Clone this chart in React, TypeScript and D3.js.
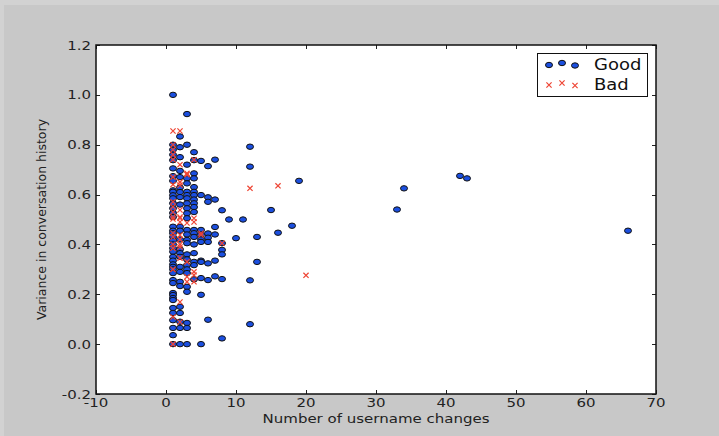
import React, { useEffect, useRef } from "react";
import * as d3 from "d3";

// username-change counts and the variance values seen at each count
const goodChanges = [1, 2, 3, 4, 5, 6, 7, 8, 9, 10, 11, 12, 13, 15, 16, 18, 19, 33, 34, 42, 43, 66];
const goodVariance = [
  [1.0, 0.8, 0.78, 0.76, 0.738, 0.705, 0.674, 0.655, 0.617, 0.611, 0.597, 0.585, 0.565, 0.545, 0.526, 0.51,
    0.471, 0.455, 0.445, 0.43, 0.415, 0.4, 0.385, 0.371, 0.35, 0.335, 0.32, 0.31, 0.3, 0.285, 0.257, 0.245,
    0.205, 0.197, 0.185, 0.177, 0.145, 0.125, 0.096, 0.065, 0.036, 0.0],
  [0.833, 0.79, 0.75, 0.695, 0.67, 0.628, 0.61, 0.59, 0.56, 0.471, 0.455, 0.42, 0.38, 0.365, 0.35, 0.31, 0.29,
    0.25, 0.233, 0.15, 0.125, 0.09, 0.065, 0.0],
  [0.923, 0.8, 0.72, 0.665, 0.645, 0.611, 0.598, 0.585, 0.565, 0.545, 0.525, 0.505, 0.458, 0.44, 0.418, 0.405,
    0.36, 0.34, 0.317, 0.3, 0.285, 0.23, 0.21, 0.085, 0.065, 0.0],
  [0.77, 0.738, 0.685, 0.665, 0.63, 0.611, 0.598, 0.58, 0.565, 0.55, 0.53, 0.458, 0.445, 0.43, 0.4, 0.365, 0.33,
    0.317, 0.26],
  [0.735, 0.598, 0.458, 0.44, 0.42, 0.41, 0.335, 0.33, 0.265, 0.198, 0.0],
  [0.714, 0.589, 0.571, 0.444, 0.427, 0.41, 0.324, 0.257, 0.098],
  [0.74, 0.58, 0.47, 0.44, 0.335, 0.272],
  [0.537, 0.405, 0.378, 0.36, 0.261, 0.023],
  [0.5],
  [0.425],
  [0.5],
  [0.792, 0.712, 0.256, 0.08],
  [0.43, 0.33],
  [0.538],
  [0.447],
  [0.475],
  [0.655],
  [0.54],
  [0.625],
  [0.675],
  [0.665],
  [0.455],
];

const badChanges = [1, 2, 3, 4, 5, 8, 12, 16, 20];
const badVariance = [
  [0.855, 0.8, 0.78, 0.76, 0.74, 0.67, 0.64, 0.571, 0.551, 0.53, 0.51, 0.502, 0.445, 0.43, 0.4, 0.385, 0.3,
    0.109, 0.0],
  [0.855, 0.72, 0.65, 0.638, 0.538, 0.51, 0.505, 0.49, 0.438, 0.42, 0.4, 0.39, 0.345, 0.169, 0.089],
  [0.685, 0.68, 0.486, 0.33, 0.27, 0.25],
  [0.74, 0.505, 0.49, 0.29, 0.277, 0.25],
  [0.445, 0.438],
  [0.405],
  [0.625],
  [0.635],
  [0.276],
];

const xTicks = [-10, 0, 10, 20, 30, 40, 50, 60, 70];
const yTicks = [-0.2, 0.0, 0.2, 0.4, 0.6, 0.8, 1.0, 1.2];
const seriesNames = ["Good", "Bad"];

const FONT = "'DejaVu Sans', Verdana, sans-serif";
const BLUE = "#1b4fe0";
const RED = "#ee4433";
// the reference picture is stretched sideways a little
const SX = 1.2;

export default function App() {
  const svgRef = useRef<SVGSVGElement>(null);

  useEffect(() => {
    const svg = d3.select(svgRef.current);
    svg.selectAll("*").remove();

    const W = 719;
    const H = 436;
    const left = 96, right = 656, top = 45, bottom = 394;

    const x = d3.scaleLinear().domain([-10, 70]).range([left, right]);
    const y = d3.scaleLinear().domain([-0.2, 1.2]).range([bottom, top]);

    // figure background
    svg.append("rect").attr("width", W).attr("height", H).attr("fill", "#c8c8c8");
    svg.append("rect").attr("width", W).attr("height", 5).attr("fill", "#d2d2d2");
    svg.append("rect").attr("width", 4).attr("height", H).attr("fill", "#d2d2d2");

    // plot area
    svg
      .append("rect")
      .attr("x", left)
      .attr("y", top)
      .attr("width", right - left)
      .attr("height", bottom - top)
      .attr("fill", "#fff");

    const good = goodChanges.flatMap((c, i) => goodVariance[i].map((v) => [c, v]));
    const bad = badChanges.flatMap((c, i) => badVariance[i].map((v) => [c, v]));

    const plot = svg.append("g");

    plot
      .append("g")
      .selectAll("ellipse")
      .data(good)
      .join("ellipse")
      .attr("cx", (d) => x(d[0]))
      .attr("cy", (d) => y(d[1]))
      .attr("rx", 3.5)
      .attr("ry", 2.7)
      .attr("fill", BLUE)
      .attr("stroke", "#111")
      .attr("stroke-width", 1);

    const cross = (s: number) => `M${-s},${-s}L${s},${s}M${-s},${s}L${s},${-s}`;

    plot
      .append("g")
      .selectAll("path")
      .data(bad)
      .join("path")
      .attr("transform", (d) => `translate(${x(d[0])},${y(d[1])})`)
      .attr("d", cross(2.6))
      .attr("fill", "none")
      .attr("stroke", RED)
      .attr("stroke-width", 1.2);

    // ticks (inward, all four sides)
    const tickLen = 4;
    const ticks = svg.append("g").attr("stroke", "#222").attr("stroke-width", 1);
    xTicks.forEach((t) => {
      const px = Math.round(x(t)) + 0.5;
      ticks.append("line").attr("x1", px).attr("x2", px).attr("y1", bottom).attr("y2", bottom - tickLen);
      ticks.append("line").attr("x1", px).attr("x2", px).attr("y1", top).attr("y2", top + tickLen);
    });
    yTicks.forEach((t) => {
      const py = Math.round(y(t)) + 0.5;
      ticks.append("line").attr("x1", left).attr("x2", left + tickLen).attr("y1", py).attr("y2", py);
      ticks.append("line").attr("x1", right).attr("x2", right - tickLen).attr("y1", py).attr("y2", py);
    });

    // frame
    svg
      .append("rect")
      .attr("x", left)
      .attr("y", top)
      .attr("width", right - left)
      .attr("height", bottom - top)
      .attr("fill", "none")
      .attr("stroke", "#111")
      .attr("stroke-width", 1.5);

    // tick labels
    const fmtX = (v: number) => d3.format("d")(v).replace("−", "-");
    const fmtY = (v: number) => d3.format(".1f")(v).replace("−", "-");
    svg
      .append("g")
      .selectAll("text")
      .data(xTicks)
      .join("text")
      .attr("transform", (d) => `translate(${x(d)},${bottom + 13}) scale(${SX},1)`)
      .attr("text-anchor", "middle")
      .style("font-family", FONT)
      .style("font-size", "12.5px")
      .style("fill", "#222")
      .text((d) => fmtX(d));

    svg
      .append("g")
      .selectAll("text")
      .data(yTicks)
      .join("text")
      .attr("transform", (d) => `translate(${left - 5},${y(d) + 4.5}) scale(${SX},1)`)
      .attr("text-anchor", "end")
      .style("font-family", FONT)
      .style("font-size", "12.5px")
      .style("fill", "#222")
      .text((d) => fmtY(d));

    // axis titles
    svg
      .append("text")
      .attr("transform", `translate(${(left + right) / 2},${bottom + 29}) scale(${SX},1)`)
      .attr("text-anchor", "middle")
      .style("font-family", FONT)
      .style("font-size", "12.5px")
      .style("fill", "#222")
      .text("Number of username changes");

    svg
      .append("text")
      .attr("transform", `translate(46,${(top + bottom) / 2}) rotate(-90)`)
      .attr("text-anchor", "middle")
      .style("font-family", FONT)
      .style("font-size", "12.5px")
      .style("fill", "#222")
      .text("Variance in conversation history");

    // legend
    const lg = svg.append("g");
    lg.append("rect")
      .attr("x", 537.5)
      .attr("y", 53.5)
      .attr("width", 110)
      .attr("height", 43)
      .attr("fill", "#fff")
      .attr("stroke", "#111")
      .attr("stroke-width", 1);

    const markerXs = [549, 562, 575];
    const markerDy = [1, -1, 1.5];
    markerXs.forEach((mx, i) => {
      lg.append("ellipse")
        .attr("cx", mx)
        .attr("cy", 64 + markerDy[i])
        .attr("rx", 3.5)
        .attr("ry", 2.7)
        .attr("fill", BLUE)
        .attr("stroke", "#111");
      lg.append("path")
        .attr("transform", `translate(${mx},${84 + markerDy[i]})`)
        .attr("d", cross(2.6))
        .attr("fill", "none")
        .attr("stroke", RED)
        .attr("stroke-width", 1.2);
    });

    seriesNames.forEach((name, i) => {
      lg.append("text")
        .attr("transform", `translate(594,${69.5 + i * 20}) scale(${SX},1)`)
        .style("font-family", FONT)
        .style("font-size", "15px")
        .style("fill", "#111")
        .text(name);
    });
  }, []);

  return (
    <svg
      ref={svgRef}
      width="719"
      height="436"
      style={{ position: "absolute", left: 0, top: 0, display: "block" }}
    ></svg>
  );
}
